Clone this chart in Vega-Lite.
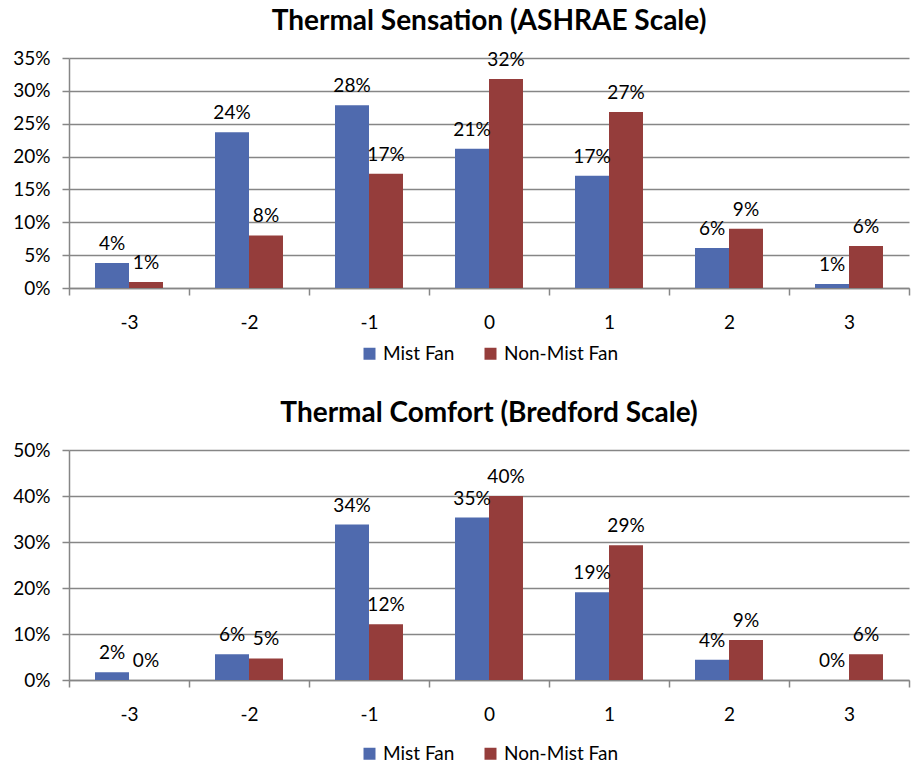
{
  "$schema": "https://vega.github.io/schema/vega-lite/v6.json",
  "background": "white",
  "padding": {"left": 12, "top": 8, "right": 2, "bottom": 2},
  "config": {
    "font": "Lato",
    "view": {"stroke": null},
    "axis": {
      "labelFont": "Lato", "labelFontSize": 19, "labelColor": "#000000",
      "domainColor": "#868686", "tickColor": "#868686", "gridColor": "#868686",
      "gridWidth": 1.5, "domainWidth": 1.5, "tickWidth": 1.5
    },
    "legend": {
      "orient": "bottom", "direction": "horizontal", "title": null,
      "labelFont": "Lato", "labelFontSize": 19, "labelColor": "#000000",
      "symbolType": "square", "symbolSize": 144, "symbolStrokeWidth": 0,
      "columnPadding": 26, "offset": 12,
      "layout": {"bottom": {"anchor": "middle"}}
    },
    "title": {"font": "Lato", "fontSize": 28, "fontWeight": "bold", "color": "#000000", "anchor": "middle", "offset": 13},
    "concat": {"spacing": 36}
  },
  "datasets": {
    "ashrae": [
      {"scale": -3, "fan": "Mist Fan", "pct": 0.038},
      {"scale": -3, "fan": "Non-Mist Fan", "pct": 0.009},
      {"scale": -2, "fan": "Mist Fan", "pct": 0.237},
      {"scale": -2, "fan": "Non-Mist Fan", "pct": 0.080},
      {"scale": -1, "fan": "Mist Fan", "pct": 0.278},
      {"scale": -1, "fan": "Non-Mist Fan", "pct": 0.174},
      {"scale": 0, "fan": "Mist Fan", "pct": 0.212},
      {"scale": 0, "fan": "Non-Mist Fan", "pct": 0.318},
      {"scale": 1, "fan": "Mist Fan", "pct": 0.171},
      {"scale": 1, "fan": "Non-Mist Fan", "pct": 0.268},
      {"scale": 2, "fan": "Mist Fan", "pct": 0.061},
      {"scale": 2, "fan": "Non-Mist Fan", "pct": 0.090},
      {"scale": 3, "fan": "Mist Fan", "pct": 0.006},
      {"scale": 3, "fan": "Non-Mist Fan", "pct": 0.064}
    ],
    "bredford": [
      {"scale": -3, "fan": "Mist Fan", "pct": 0.017},
      {"scale": -3, "fan": "Non-Mist Fan", "pct": 0.0},
      {"scale": -2, "fan": "Mist Fan", "pct": 0.056},
      {"scale": -2, "fan": "Non-Mist Fan", "pct": 0.047},
      {"scale": -1, "fan": "Mist Fan", "pct": 0.338},
      {"scale": -1, "fan": "Non-Mist Fan", "pct": 0.121},
      {"scale": 0, "fan": "Mist Fan", "pct": 0.353},
      {"scale": 0, "fan": "Non-Mist Fan", "pct": 0.400},
      {"scale": 1, "fan": "Mist Fan", "pct": 0.191},
      {"scale": 1, "fan": "Non-Mist Fan", "pct": 0.293},
      {"scale": 2, "fan": "Mist Fan", "pct": 0.044},
      {"scale": 2, "fan": "Non-Mist Fan", "pct": 0.087},
      {"scale": 3, "fan": "Mist Fan", "pct": 0.0},
      {"scale": 3, "fan": "Non-Mist Fan", "pct": 0.056}
    ]
  },
  "resolve": {"scale": {"color": "independent", "x": "independent", "y": "independent"}, "legend": {"color": "independent"}},
  "vconcat": [
    {
      "title": "Thermal Sensation (ASHRAE Scale)",
      "width": 840, "height": 230,
      "data": {"name": "ashrae"},
      "encoding": {
        "x": {"field": "scale", "type": "ordinal", "sort": "ascending",
          "scale": {"paddingInner": 0, "paddingOuter": 0},
          "axis": {"title": null, "labelAngle": 0, "tickBand": "extent", "tickSize": 7, "labelPadding": 18, "grid": false}},
        "xOffset": {"field": "fan", "type": "nominal", "sort": ["Mist Fan", "Non-Mist Fan"], "scale": {"paddingInner": 0, "paddingOuter": 0.765}},
        "y": {"field": "pct", "type": "quantitative", "scale": {"domain": [0, 0.35]},
          "axis": {"title": null, "values": [0, 0.05, 0.1, 0.15, 0.2, 0.25, 0.3, 0.35], "format": ".0%", "grid": true, "tickSize": 7, "labelPadding": 12}}
      },
      "layer": [
        {"mark": {"type": "bar"},
          "encoding": {"color": {"field": "fan", "type": "nominal",
            "scale": {"domain": ["Mist Fan", "Non-Mist Fan"], "range": ["#4F6AAE", "#953D3B"]}}}},
        {"mark": {"type": "text", "baseline": "bottom", "dy": -9, "fontSize": 19, "color": "#000000"},
          "encoding": {"text": {"field": "pct", "type": "quantitative", "format": ".0%"}}}
      ]
    },
    {
      "title": "Thermal Comfort (Bredford Scale)",
      "width": 840, "height": 230,
      "data": {"name": "bredford"},
      "encoding": {
        "x": {"field": "scale", "type": "ordinal", "sort": "ascending",
          "scale": {"paddingInner": 0, "paddingOuter": 0},
          "axis": {"title": null, "labelAngle": 0, "tickBand": "extent", "tickSize": 7, "labelPadding": 18, "grid": false}},
        "xOffset": {"field": "fan", "type": "nominal", "sort": ["Mist Fan", "Non-Mist Fan"], "scale": {"paddingInner": 0, "paddingOuter": 0.765}},
        "y": {"field": "pct", "type": "quantitative", "scale": {"domain": [0, 0.5]},
          "axis": {"title": null, "values": [0, 0.1, 0.2, 0.3, 0.4, 0.5], "format": ".0%", "grid": true, "tickSize": 7, "labelPadding": 12}}
      },
      "layer": [
        {"mark": {"type": "bar"},
          "encoding": {"color": {"field": "fan", "type": "nominal",
            "scale": {"domain": ["Mist Fan", "Non-Mist Fan"], "range": ["#4F6AAE", "#953D3B"]},
            "legend": {"offset": 20}}}},
        {"mark": {"type": "text", "baseline": "bottom", "dy": -9, "fontSize": 19, "color": "#000000"},
          "encoding": {"text": {"field": "pct", "type": "quantitative", "format": ".0%"}}}
      ]
    }
  ]
}
